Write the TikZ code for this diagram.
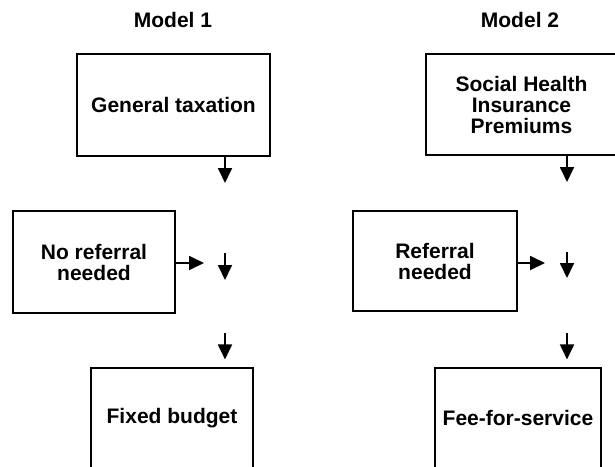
\documentclass[tikz,border=0pt]{standalone}
\usepackage{fontspec}
\setmainfont{Liberation Sans}
\usetikzlibrary{arrows.meta}
\newcommand{\connectdown}[2]{%
  \draw[flow] (#1) -- (#2)}

\begin{document}
\begin{tikzpicture}[x=1pt, y=-1pt,
    box/.style={rectangle, draw, line width=1.1pt, align=center, inner sep=0pt,
    font=\fontsize{21}{21}\selectfont\bfseries},
    title/.style={font=\fontsize{21}{21}\selectfont\bfseries},
    flow/.style={->, line width=1.8pt}, >={Triangle[length=15pt,width=14pt]}]
  \clip (0,0) rectangle (615,466);

  % Model 1
  \node[title] (model1) at (173,20) {Model 1};
  \node[box, minimum width=193pt, minimum height=102pt] (tax) at (173.5,105) {General taxation};
  \node[box, minimum width=162pt, minimum height=102pt] (noref) at (94,262) {No referral\\needed};
  \node[box, minimum width=162pt, minimum height=100pt] (budget) at (172,418) {Fixed budget};

  \coordinate (tax-out) at (225,183);
  \coordinate (noref-out) at (204,263);
  \coordinate (mid1-top) at (225,253);
  \coordinate (mid1-bot) at (225,280);
  \coordinate (budget-in) at (225,333);

  \connectdown{tax.south -| tax-out}{tax-out};
  \connectdown{noref.east |- noref-out}{noref-out};
  \connectdown{mid1-top}{mid1-bot};
  \connectdown{budget-in}{[yshift=8pt]budget.north -| budget-in};

  % Model 2
  \node[title] (model2) at (520,20) {Model 2};
  \node[box, minimum width=191pt, minimum height=101pt] (shi) at (521.5,104.5) {Social Health\\Insurance\\Premiums};
  \node[box, minimum width=164pt, minimum height=100pt] (ref) at (435,261) {Referral\\needed};
  \node[box, minimum width=166pt, minimum height=100pt] (fee) at (518,418) {Fee-for-service};

  \coordinate (shi-out) at (567,182);
  \coordinate (ref-out) at (545,263);
  \coordinate (mid2-top) at (567,252);
  \coordinate (mid2-bot) at (567,278);
  \coordinate (fee-in) at (567,333);

  \connectdown{shi.south -| shi-out}{shi-out};
  \connectdown{ref.east |- ref-out}{ref-out};
  \connectdown{mid2-top}{mid2-bot};
  \connectdown{fee-in}{[yshift=8pt]fee.north -| fee-in};
\end{tikzpicture}
\end{document}
